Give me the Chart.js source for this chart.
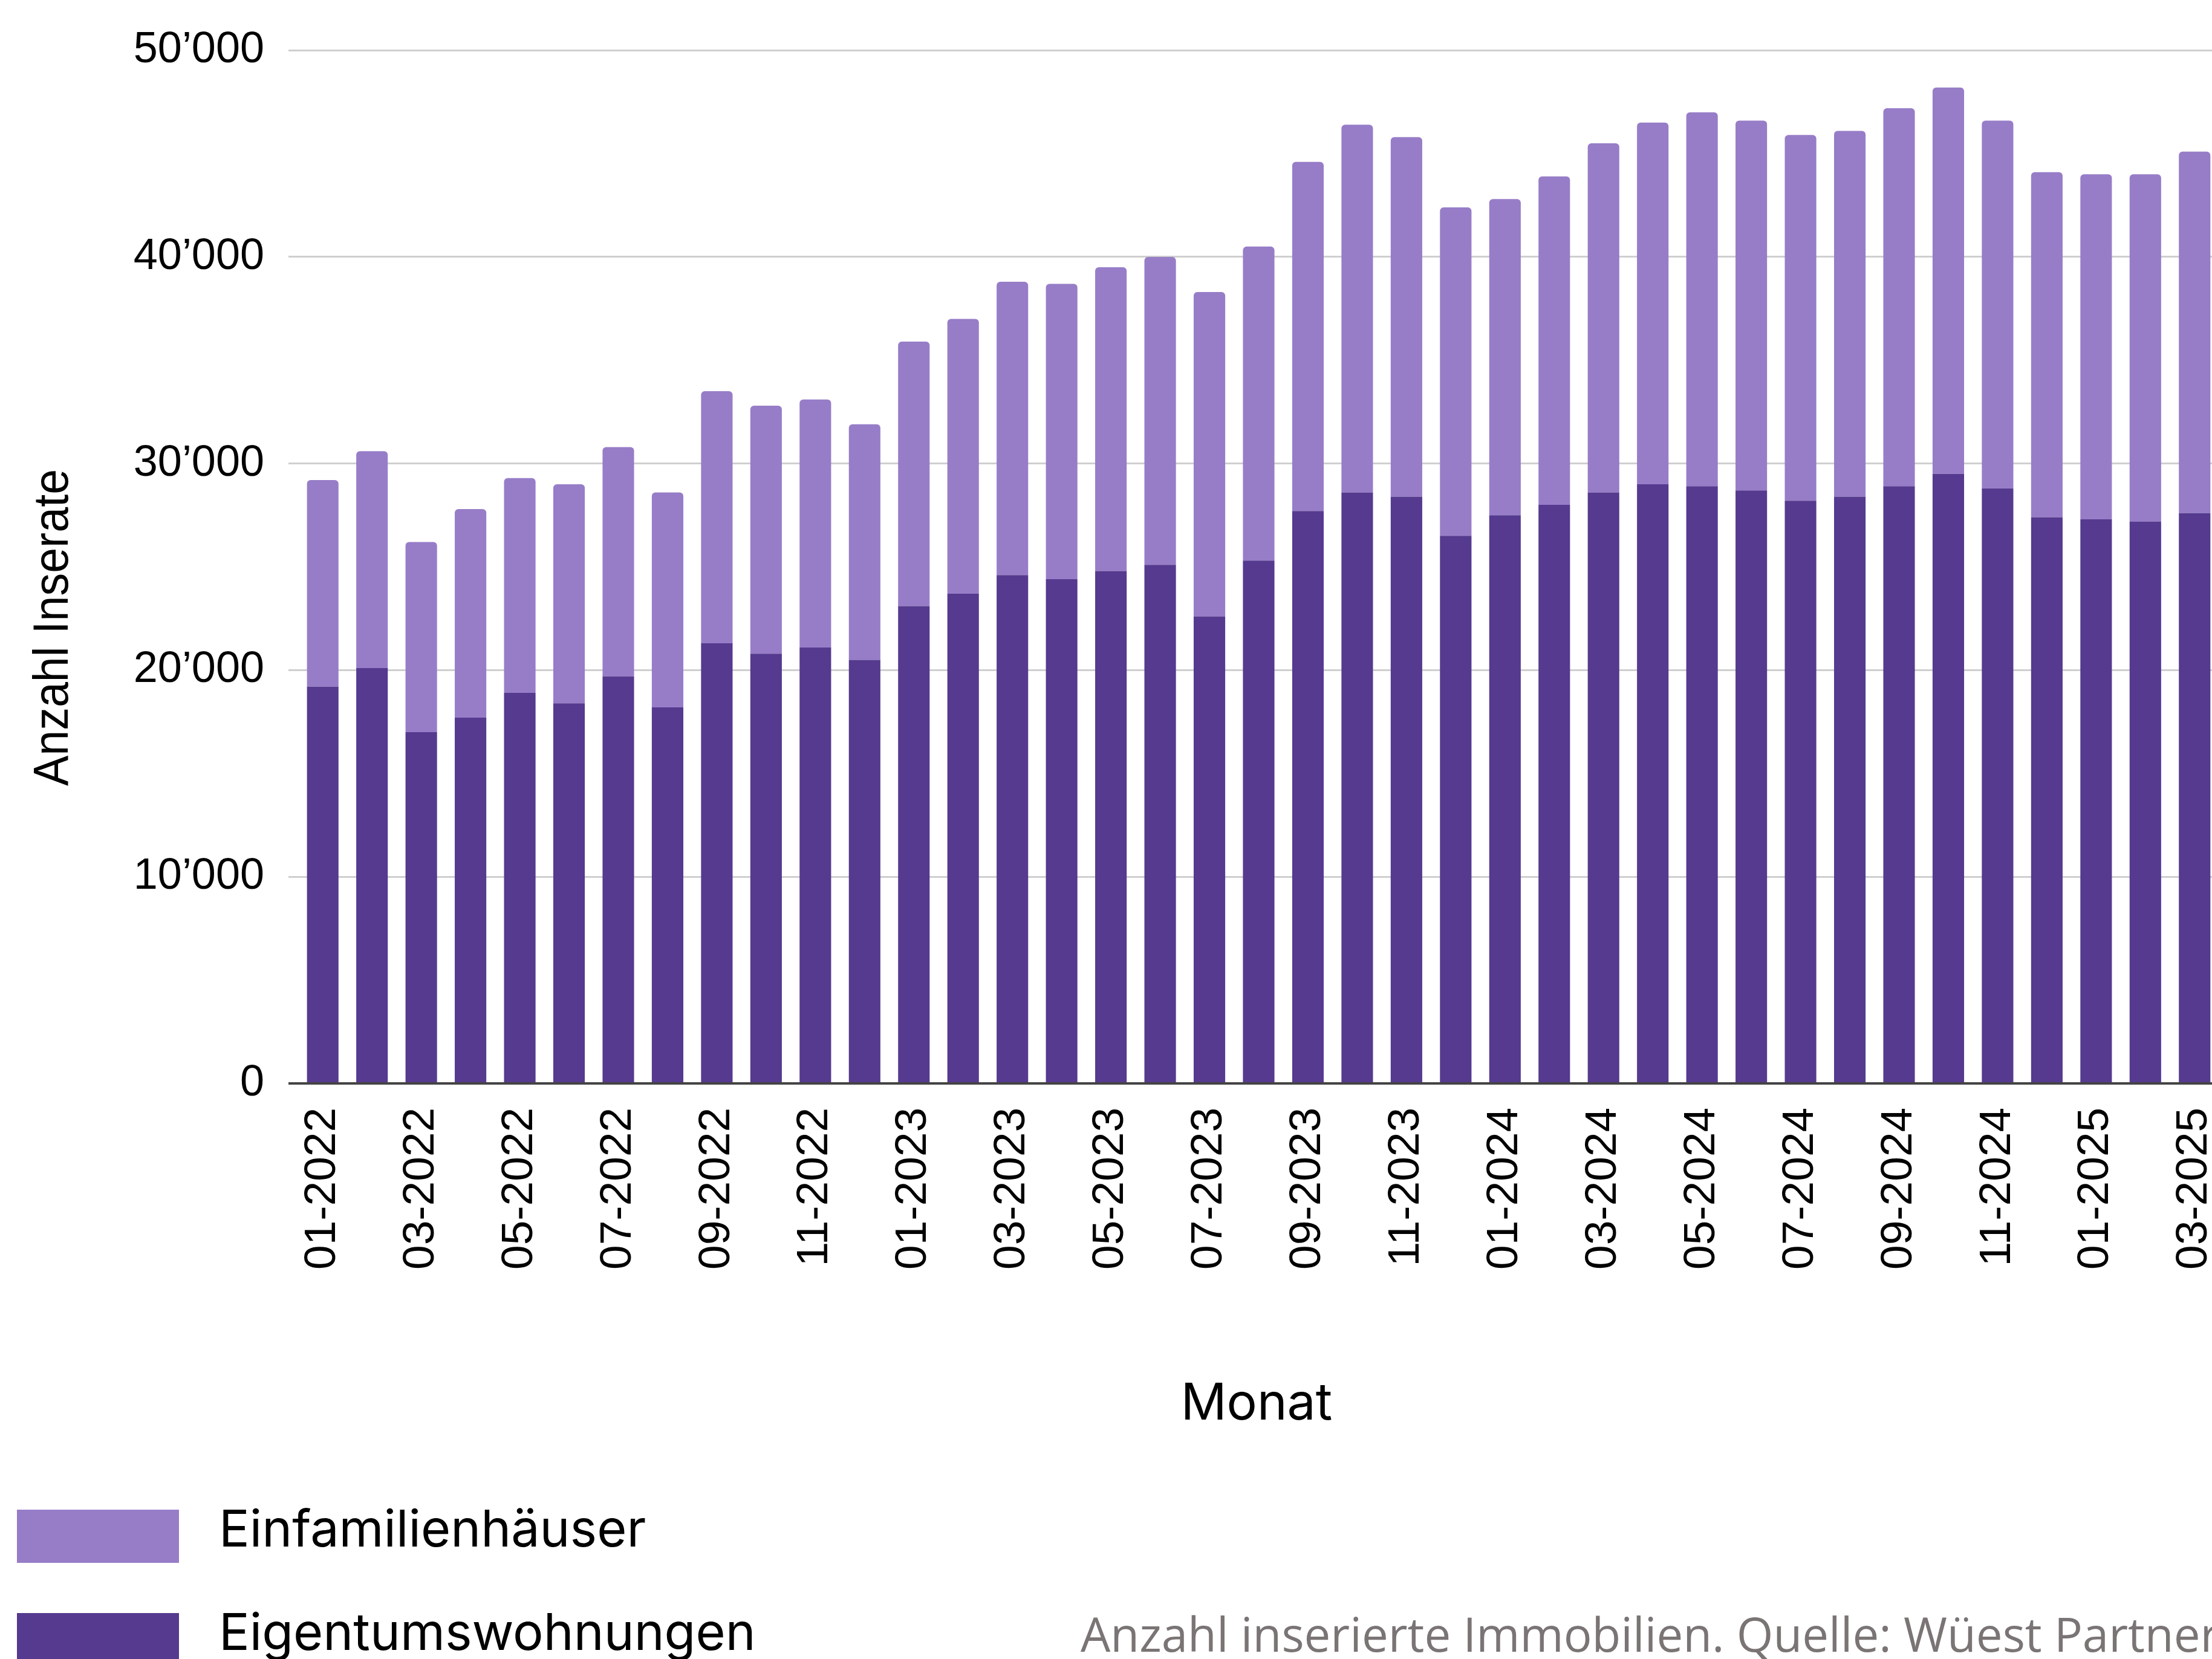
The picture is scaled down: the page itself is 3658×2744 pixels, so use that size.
<!DOCTYPE html>
<html lang="de">
<head>
<meta charset="utf-8">
<title>Anzahl Inserate</title>
<script src="https://cdn.jsdelivr.net/npm/chart.js@4.4.1/dist/chart.umd.min.js"></script>
<style>
  html, body { margin: 0; padding: 0; background: #fff; overflow: hidden; }
  canvas { display: block; }
</style>
</head>
<body>
<canvas id="chart" width="3757" height="2800"></canvas>
<script>
// Monate (x-Achse)
const MONTHS = [
  "01-2022", "02-2022", "03-2022", "04-2022", "05-2022", "06-2022",
  "07-2022", "08-2022", "09-2022", "10-2022", "11-2022", "12-2022",
  "01-2023", "02-2023", "03-2023", "04-2023", "05-2023", "06-2023",
  "07-2023", "08-2023", "09-2023", "10-2023", "11-2023", "12-2023",
  "01-2024", "02-2024", "03-2024", "04-2024", "05-2024", "06-2024",
  "07-2024", "08-2024", "09-2024", "10-2024", "11-2024", "12-2024",
  "01-2025", "02-2025", "03-2025"
];

// Eigentumswohnungen (unterer Stapel)
const EIGENTUMSWOHNUNGEN = [
  19200, 20100, 17000, 17700, 18900, 18400,
  19700, 18200, 21300, 20800, 21100, 20500,
  23100, 23700, 24600, 24400, 24800, 25100,
  22600, 25300, 27700, 28600, 28400, 26500,
  27500, 28000, 28600, 29000, 28900, 28700,
  28200, 28400, 28900, 29500, 28800, 27400,
  27300, 27200, 27600
];

// Einfamilienhäuser (oberer Stapel)
const EINFAMILIENHAEUSER = [
  10000, 10500, 9200, 10100, 10400, 10600,
  11100, 10400, 12200, 12000, 12000, 11400,
  12800, 13300, 14200, 14300, 14700, 14900,
  15700, 15200, 16900, 17800, 17400, 15900,
  15300, 15900, 16900, 17500, 18100, 17900,
  17700, 17700, 18300, 18700, 17800, 16700,
  16700, 16800, 17500
];

const Y_TICKS = [0, 10000, 20000, 30000, 40000, 50000];

const Y_TITLE = "Anzahl Inserate";
const X_TITLE = "Monat";
const SOURCE = "Anzahl inserierte Immobilien. Quelle: Wüest Partner.";

const COLOR_LIGHT = "#977dc8";
const COLOR_DARK = "#553a8f";

function formatCH(v) {
  return String(v).replace(/\B(?=(\d{3})+(?!\d))/g, "\u2019");
}

// draws axis titles, legend and source note
const extrasPlugin = {
  id: "extras",
  afterDraw(chart) {
    const ctx = chart.ctx;
    ctx.save();
    ctx.fillStyle = "#000";
    ctx.textBaseline = "alphabetic";

    // x title
    ctx.font = '84px Inter';
    ctx.textAlign = "center";
    ctx.fillText(X_TITLE, 2078, 2348);

    // y title
    ctx.save();
    ctx.translate(112, 1038);
    ctx.rotate(-Math.PI / 2);
    ctx.scale(0.92, 1);
    ctx.font = '82px "Liberation Sans"';
    ctx.textAlign = "center";
    ctx.fillText(Y_TITLE, 0, 0);
    ctx.restore();

    // legend (top series first)
    const items = chart.data.datasets.slice().reverse();
    ctx.textAlign = "left";
    ctx.font = '84.5px Inter';
    items.forEach((ds, i) => {
      const y = 2497 + i * 171;
      ctx.fillStyle = ds.backgroundColor;
      ctx.fillRect(28, y, 268, 88);
      ctx.fillStyle = "#000";
      ctx.fillText(ds.label, 362, y + 61);
    });

    // source note
    ctx.font = '78px "Open Sans"';
    ctx.fillStyle = "#7a7474";
    ctx.fillText(SOURCE, 1787, 2732);
    ctx.restore();
  }
};

const ctx = document.getElementById("chart").getContext("2d");
new Chart(ctx, {
  type: "bar",
  data: {
    labels: MONTHS,
    datasets: [
      {
        label: "Eigentumswohnungen",
        data: EIGENTUMSWOHNUNGEN,
        backgroundColor: COLOR_DARK,
        barPercentage: 0.64,
        categoryPercentage: 1.0
      },
      {
        label: "Einfamilienhäuser",
        data: EINFAMILIENHAEUSER,
        backgroundColor: COLOR_LIGHT,
        borderRadius: { topLeft: 6, topRight: 6, bottomLeft: 0, bottomRight: 0 },
        borderSkipped: "bottom",
        barPercentage: 0.64,
        categoryPercentage: 1.0
      }
    ]
  },
  options: {
    responsive: false,
    animation: false,
    devicePixelRatio: 1,
    layout: { padding: { top: 83, right: 10, left: 0, bottom: 0 } },
    plugins: {
      legend: { display: false },
      tooltip: { enabled: false }
    },
    scales: {
      x: {
        stacked: true,
        offset: true,
        grid: { display: false, drawTicks: false },
        border: { display: false },
        ticks: {
          autoSkip: false,
          minRotation: 90,
          maxRotation: 90,
          padding: 40,
          color: "#000",
          font: { family: '"Liberation Sans", Arial, sans-serif', size: 73 },
          callback: (val, i) => (i % 2 === 0 ? MONTHS[i] : "")
        },
        afterFit: (scale) => { scale.height = 1008; }
      },
      y: {
        stacked: true,
        min: Y_TICKS[0],
        max: Y_TICKS[Y_TICKS.length - 1],
        afterBuildTicks: (scale) => { scale.ticks = Y_TICKS.map(v => ({ value: v })); },
        grid: {
          drawTicks: true,
          tickLength: 16,
          color: (c) => (c.tick && c.tick.value === 0 ? "#444444" : "#cfcfcf"),
          tickColor: (c) => (c.tick && c.tick.value === 0 ? "#444444" : "#cfcfcf"),
          lineWidth: (c) => (c.tick && c.tick.value === 0 ? 4 : 3)
        },
        border: { display: false },
        ticks: {
          padding: 40,
          color: "#000",
          font: { family: '"Liberation Sans", Arial, sans-serif', size: 72 },
          callback: (v) => formatCH(v)
        },
        afterFit: (scale) => { scale.width = 493; }
      }
    }
  },
  plugins: [extrasPlugin]
});
</script>
</body>
</html>
